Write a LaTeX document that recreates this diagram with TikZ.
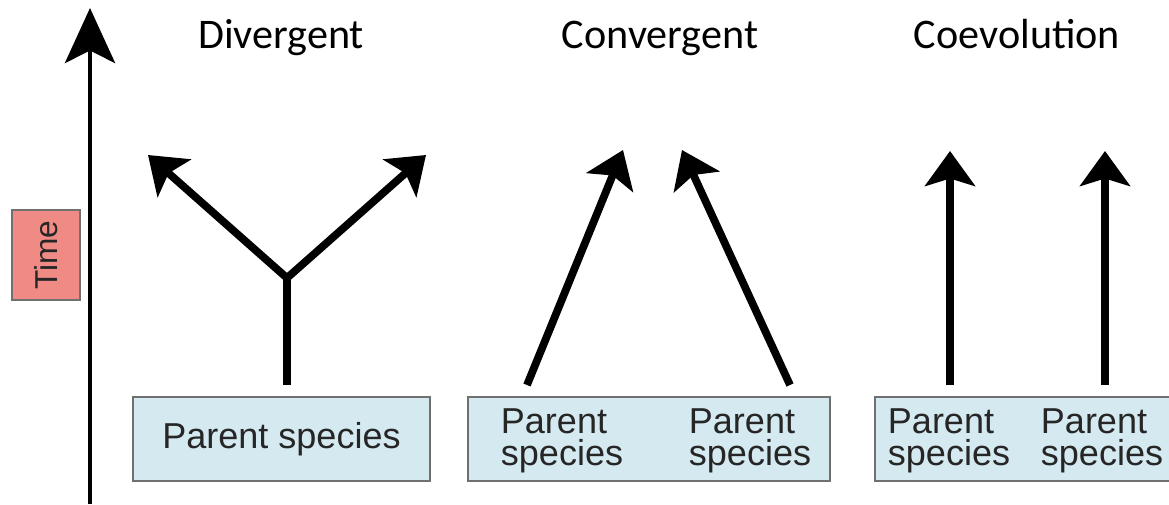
\documentclass[tikz,border=0pt]{standalone}
\usepackage{fontspec}
\setmainfont{Carlito}
\newfontfamily\arialfont{Liberation Sans}
\usetikzlibrary{arrows.meta,positioning}
\definecolor{speciesblue}{HTML}{D5EAF0}
\definecolor{timepink}{HTML}{F08A84}
\definecolor{boxgray}{HTML}{707070}
\tikzset{
spbox/.style={draw=boxgray,line width=1.2pt,fill=speciesblue,inner sep=0pt,minimum height=1.68cm},
sptext/.style={font=\arialfont\fontsize{20.5}{18.5}\selectfont,text=black!85,align=left,inner sep=0pt},
title/.style={font=\fontsize{24}{28}\selectfont,inner sep=0pt,anchor=base},
evo/.style={-{Stealth[length=7mm,width=10mm,inset=1.5mm]},line width=4.4pt},
stem/.style={line width=4.4pt},
timeaxis/.style={-{Stealth[length=11mm,width=10mm,inset=2.5mm]},line width=2.8pt}
}

\begin{document}
\begin{tikzpicture}[x=0.02cm,y=-0.02cm]
\useasboundingbox (0,0) rectangle (1169,504);
% time axis
\coordinate (t0) at (90,504);
\coordinate (t1) at (90,8);
\draw[timeaxis] (t0) -- (t1);
\node[draw=boxgray,line width=0.8pt,fill=timepink,rotate=90,minimum width=1.8cm,minimum height=1.36cm,
  font=\arialfont\fontsize{18}{20}\selectfont,text=black!85] (time) at (46,255) {Time};

% titles
\node[title] (divt) at (281,48) {Divergent};
\node[title] (convt) at (660,48) {Convergent};
\node[title] (coevt) at (1017,48) {Coevolution};

% parent boxes
\node[spbox,minimum width=5.94cm] (div) at (281.5,439) {};
\node[spbox,minimum width=7.24cm] (conv) at (649,439) {};
\node[spbox,minimum width=6.1cm] (coev) at (1027.5,439) {};
\node[sptext] (divp) at (div) {Parent species};
\node[sptext] (convl) at (562,441) {Parent\\species};
\node[sptext] (convr) at (750,441) {Parent\\species};
\node[sptext] (coevl) at (949,441) {Parent\\species};
\node[sptext] (coevr) at (1102,441) {Parent\\species};

% divergent
\coordinate (divbase) at (287,385);
\coordinate (fork) at (287,278);
\coordinate (divl) at (148,155);
\coordinate (divr) at (426,155);
\draw[stem] (divbase) -- (fork);
\draw[evo] (fork) -- (divl);
\draw[evo] (fork) -- (divr);

% convergent
\coordinate (cl0) at (527,385);
\coordinate (cl1) at (623,150);
\coordinate (cr0) at (790,385);
\coordinate (cr1) at (682,150);
\draw[evo] (cl0) -- (cl1);
\draw[evo] (cr0) -- (cr1);

% coevolution
\coordinate (el0) at (950,385);
\coordinate (el1) at (950,151);
\coordinate (er0) at (1105,385);
\coordinate (er1) at (1105,151);
\draw[evo] (el0) -- (el1);
\draw[evo] (er0) -- (er1);
\end{tikzpicture}
\end{document}
